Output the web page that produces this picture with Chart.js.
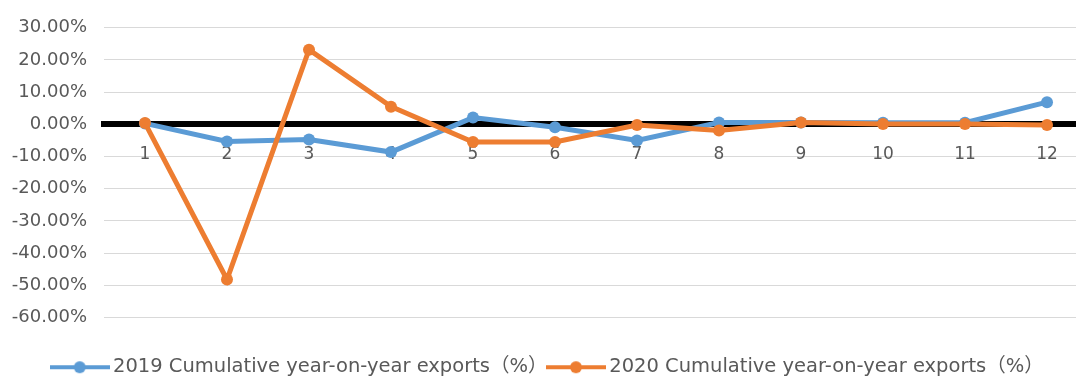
<!DOCTYPE html>
<html>
<head>
<meta charset="utf-8">
<script src="https://cdn.jsdelivr.net/npm/chart.js@4/dist/chart.umd.min.js"></script>
<style>
  html, body { margin: 0; padding: 0; background: #ffffff; overflow: hidden; }
  #chart { position: absolute; left: 0; top: 0; }
</style>
</head>
<body>
<canvas id="chart" width="1100" height="387"></canvas>
<script>
// Months of the year
const months = ['1', '2', '3', '4', '5', '6', '7', '8', '9', '10', '11', '12'];
// Cumulative year-on-year change in exports, percent
const exports2019 = [0.3, -5.3, -4.7, -8.6, 2.1, -0.9, -5.0, 0.6, 0.6, 0.5, 0.5, 6.9];
const exports2020 = [0.4, -48.2, 23.2, 5.5, -5.5, -5.5, -0.2, -1.9, 0.6, 0.1, 0.1, -0.2];
const seriesNames = ['2019 Cumulative year-on-year exports（%）', '2020 Cumulative year-on-year exports（%）'];
const yTicks = { min: -60, max: 30, step: 10 };

const BLUE = '#5B9BD5';
const ORANGE = '#ED7D31';
const TEXT = '#595959';
const FONT = '"DejaVu Sans", "Noto Sans CJK SC", sans-serif';

// Legend key: a short line with a marker in the middle
function legendKey(color) {
  const c = document.createElement('canvas');
  c.width = 60; c.height = 14;
  const g = c.getContext('2d');
  g.strokeStyle = color;
  g.lineWidth = 4;
  g.beginPath(); g.moveTo(0, 7); g.lineTo(60, 7); g.stroke();
  g.fillStyle = color;
  g.beginPath(); g.arc(30, 7, 6, 0, Math.PI * 2); g.fill();
  return c;
}
const keys = [legendKey(BLUE), legendKey(ORANGE)];

new Chart(document.getElementById('chart'), {
  type: 'line',
  data: {
    labels: months,
    datasets: [
      {
        label: seriesNames[0], data: exports2019, order: 1,
        borderColor: BLUE, backgroundColor: BLUE, borderWidth: 5,
        pointRadius: 6, pointBackgroundColor: BLUE, pointBorderWidth: 0, tension: 0
      },
      {
        label: seriesNames[1], data: exports2020, order: 0,
        borderColor: ORANGE, backgroundColor: ORANGE, borderWidth: 5,
        pointRadius: 6, pointBackgroundColor: ORANGE, pointBorderWidth: 0, tension: 0
      }
    ]
  },
  options: {
    responsive: false,
    animation: false,
    layout: { padding: { top: 23, right: 12, bottom: 0, left: 12 } },
    plugins: {
      tooltip: { enabled: false },
      legend: {
        position: 'bottom',
        title: { display: true, text: ' ', font: { size: 10 }, padding: { top: 23, bottom: 0 } },
        labels: {
          usePointStyle: true,
          pointStyleWidth: 47,
          padding: 5,
          color: TEXT,
          font: { family: FONT, size: 19.5 },
          sort: (a, b) => a.datasetIndex - b.datasetIndex,
          generateLabels: (chart) => {
            const items = Chart.defaults.plugins.legend.labels.generateLabels(chart);
            items.forEach(it => { it.pointStyle = keys[it.datasetIndex]; });
            return items;
          }
        }
      }
    },
    scales: {
      x: {
        type: 'category',
        position: { y: 0 },
        offset: true,
        grid: { display: false, drawTicks: false },
        border: { display: true, color: '#000000', width: 6 },
        ticks: { color: TEXT, font: { family: FONT, size: 17 }, padding: 20, maxRotation: 0, autoSkip: false }
      },
      y: {
        min: yTicks.min,
        max: yTicks.max,
        afterFit: (scale) => { scale.width = 92; },
        grid: { color: '#d9d9d9', lineWidth: 1, drawTicks: false },
        border: { display: false },
        ticks: {
          stepSize: yTicks.step,
          padding: 17,
          color: TEXT,
          font: { family: FONT, size: 18 },
          callback: (v) => v.toFixed(2) + '%'
        }
      }
    }
  }
});
</script>
</body>
</html>
